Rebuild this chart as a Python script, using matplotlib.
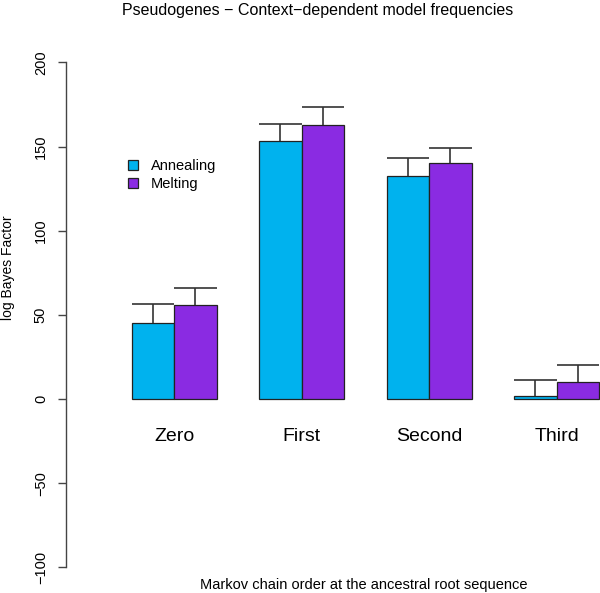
import numpy as np
import matplotlib
matplotlib.use("Agg")
import matplotlib.pyplot as plt
from matplotlib.patches import Patch

plt.rcParams["font.family"] = ["Liberation Sans", "DejaVu Sans"]

ORDERS     = ["Zero", "First", "Second", "Third"]
SERIES     = ["Annealing", "Melting"]
ANNEALING  = [45.3, 153.3, 132.3, 1.8]
MELTING    = [55.9, 162.8, 140.0, 10.3]
ERR_ANNEAL = [11.3, 10.3, 10.9, 9.3]
ERR_MELT   = [10.1, 10.7, 9.3, 9.7]
COLORS     = ["#00B2EE", "#8A2BE2"]

fig = plt.figure(figsize=(6.0, 5.93), dpi=100)
ax = fig.add_axes([0.11, 0.0219, 0.89, 0.9106])

w = 1.0
group_left = 1 + 3 * np.arange(len(ORDERS))   # R barplot beside=TRUE, space=c(0,1)
for s_idx, (vals, errs) in enumerate([(ANNEALING, ERR_ANNEAL), (MELTING, ERR_MELT)]):
    x = group_left + s_idx * w + w / 2
    vals = np.array(vals)
    errs = np.array(errs)
    ax.bar(x, vals, w, color=COLORS[s_idx], edgecolor="#222222", linewidth=0.9, zorder=2)
    ax.vlines(x, vals, vals + errs, color="#333333", linewidth=1.2, zorder=3)
    ax.hlines(vals + errs, x - w / 2, x + w / 2, color="#333333", linewidth=1.2, zorder=3)

for i, name in enumerate(ORDERS):
    ax.text(group_left[i] + w, -22, name, ha="center", va="center", fontsize=14)

ax.set_xlim(-0.546, 12.02)
ax.set_ylim(-107.5, 213.3)
ax.set_yticks([-100, -50, 0, 50, 100, 150, 200])
ax.set_yticklabels(["\u2212100", "\u221250", "0", "50", "100", "150", "200"],
                   rotation=90, va="center", fontsize=10.5)
ax.tick_params(axis="y", length=6, width=1, color="#444444", pad=7)
ax.set_xticks([])
for side in ["top", "right", "bottom"]:
    ax.spines[side].set_visible(False)
ax.spines["left"].set_bounds(-100, 200)
ax.spines["left"].set_color("#444444")
ax.spines["left"].set_linewidth(1)

handles = [Patch(facecolor=c, edgecolor="#222222", linewidth=0.9) for c in COLORS]
ax.legend(handles, SERIES, loc="upper left", bbox_to_anchor=(0.105, 0.79),
          frameon=False, fontsize=10.5, handlelength=0.7, handleheight=0.7,
          handletextpad=0.9, labelspacing=0.25, borderaxespad=0)

fig.text(318 / 600, 1 - 10 / 593, "Pseudogenes \u2212 Context\u2212dependent model frequencies",
         ha="center", va="center", fontsize=11.5)
fig.text(364 / 600, 1 - 585 / 593, "Markov chain order at the ancestral root sequence",
         ha="center", va="center", fontsize=10.5)
fig.text(8 / 600, 1 - 268 / 593, "log Bayes Factor", rotation=90,
         ha="center", va="center", fontsize=10)

fig.savefig("out.png", dpi=100)
